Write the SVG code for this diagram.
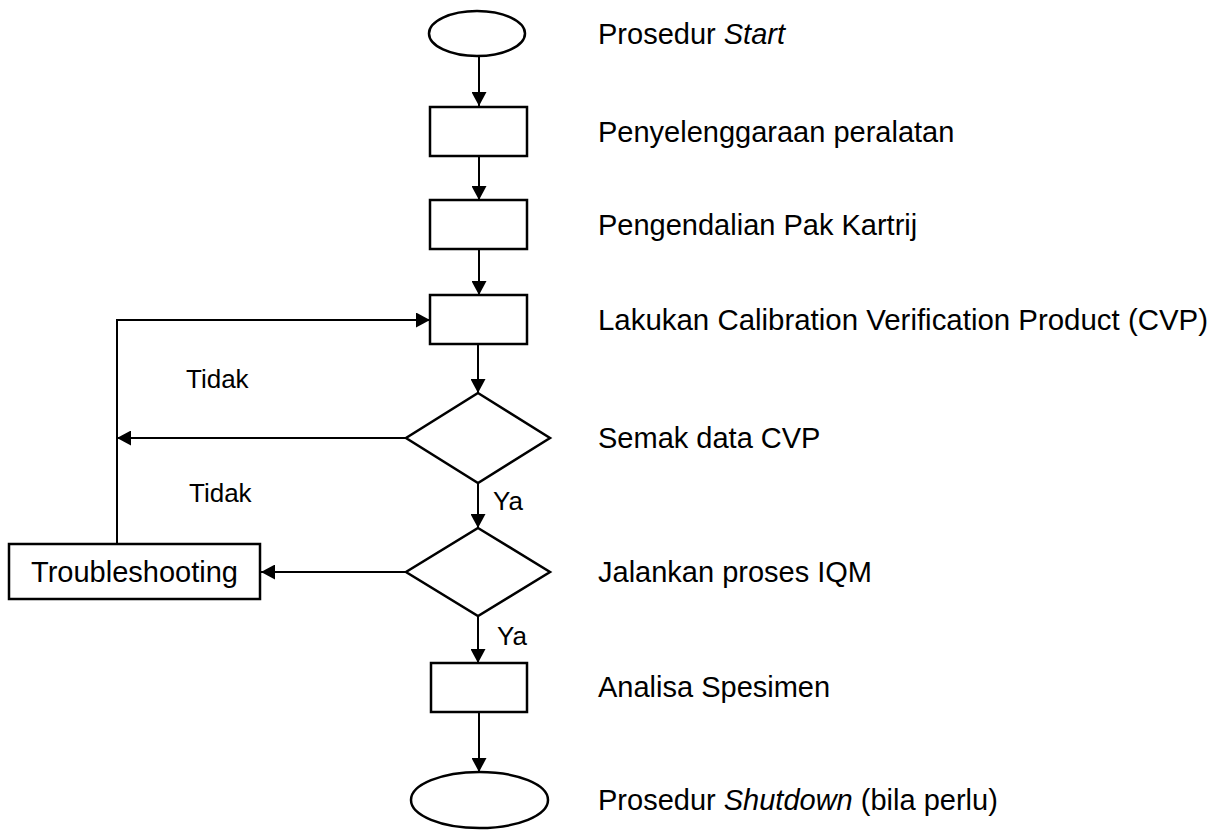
<svg xmlns="http://www.w3.org/2000/svg" width="1218" height="835" viewBox="0 0 1218 835">
<defs>
<marker id="arr" markerUnits="userSpaceOnUse" markerWidth="15" markerHeight="15" refX="14" refY="7.5" orient="auto">
<path d="M0,0 L14,7.5 L0,15 z" fill="#000"/>
</marker>
<style>
.s{fill:#fff;stroke:#000;stroke-width:2.5}
.c{fill:none;stroke:#000;stroke-width:2}
.a{marker-end:url(#arr)}
.t{font-family:"Liberation Sans",Arial,sans-serif;font-size:29px;fill:#000}
.l{font-family:"Liberation Sans",Arial,sans-serif;font-size:26px;fill:#000}
</style>
</defs>
<rect width="1218" height="835" fill="#fff"/>
<g id="connectors">
<line class="c a" x1="479" y1="56" x2="479" y2="106"/>
<line class="c a" x1="479" y1="156" x2="479" y2="200"/>
<line class="c a" x1="479" y1="249" x2="479" y2="295"/>
<line class="c a" x1="478" y1="344" x2="478" y2="393"/>
<line class="c a" x1="478" y1="483" x2="478" y2="528"/>
<line class="c a" x1="478" y1="616" x2="478" y2="663"/>
<line class="c a" x1="479" y1="712" x2="479" y2="772"/>
<line class="c a" x1="406" y1="438" x2="117" y2="438"/>
<line class="c a" x1="406" y1="572" x2="261" y2="572"/>
<polyline class="c a" points="117,544 117,320 430,320"/>
<text class="l" x="186" y="388">Tidak</text>
<text class="l" x="189" y="502">Tidak</text>
<text class="l" x="493" y="510">Ya</text>
<text class="l" x="497" y="645">Ya</text>
</g>
<g id="start">
<ellipse class="s" cx="477" cy="33.5" rx="48" ry="22.5"/>
<text class="t" x="598" y="44">Prosedur <tspan font-style="italic">Start</tspan></text>
</g>
<g id="penyelenggaraan">
<rect class="s" x="430" y="107" width="97" height="49"/>
<text class="t" x="598" y="142">Penyelenggaraan peralatan</text>
</g>
<g id="pengendalian">
<rect class="s" x="430" y="200" width="97" height="49"/>
<text class="t" x="598" y="235">Pengendalian Pak Kartrij</text>
</g>
<g id="cvp">
<rect class="s" x="430" y="295" width="97" height="49"/>
<text class="t" x="598" y="330" textLength="610" lengthAdjust="spacingAndGlyphs">Lakukan Calibration Verification Product (CVP)</text>
</g>
<g id="semak">
<polygon class="s" points="478,393 550,438 478,483 406,438"/>
<text class="t" x="598" y="448">Semak data CVP</text>
</g>
<g id="iqm">
<polygon class="s" points="478,528 550,572 478,616 406,572"/>
<text class="t" x="598" y="582">Jalankan proses IQM</text>
</g>
<g id="troubleshooting">
<rect class="s" x="9" y="544" width="251" height="55"/>
<text class="t" x="134.5" y="582" text-anchor="middle">Troubleshooting</text>
</g>
<g id="analisa">
<rect class="s" x="431" y="663" width="96" height="49"/>
<text class="t" x="598" y="697">Analisa Spesimen</text>
</g>
<g id="shutdown">
<ellipse class="s" cx="479.5" cy="800" rx="68.5" ry="28"/>
<text class="t" x="598" y="810">Prosedur <tspan font-style="italic">Shutdown</tspan> (bila perlu)</text>
</g>
</svg>
